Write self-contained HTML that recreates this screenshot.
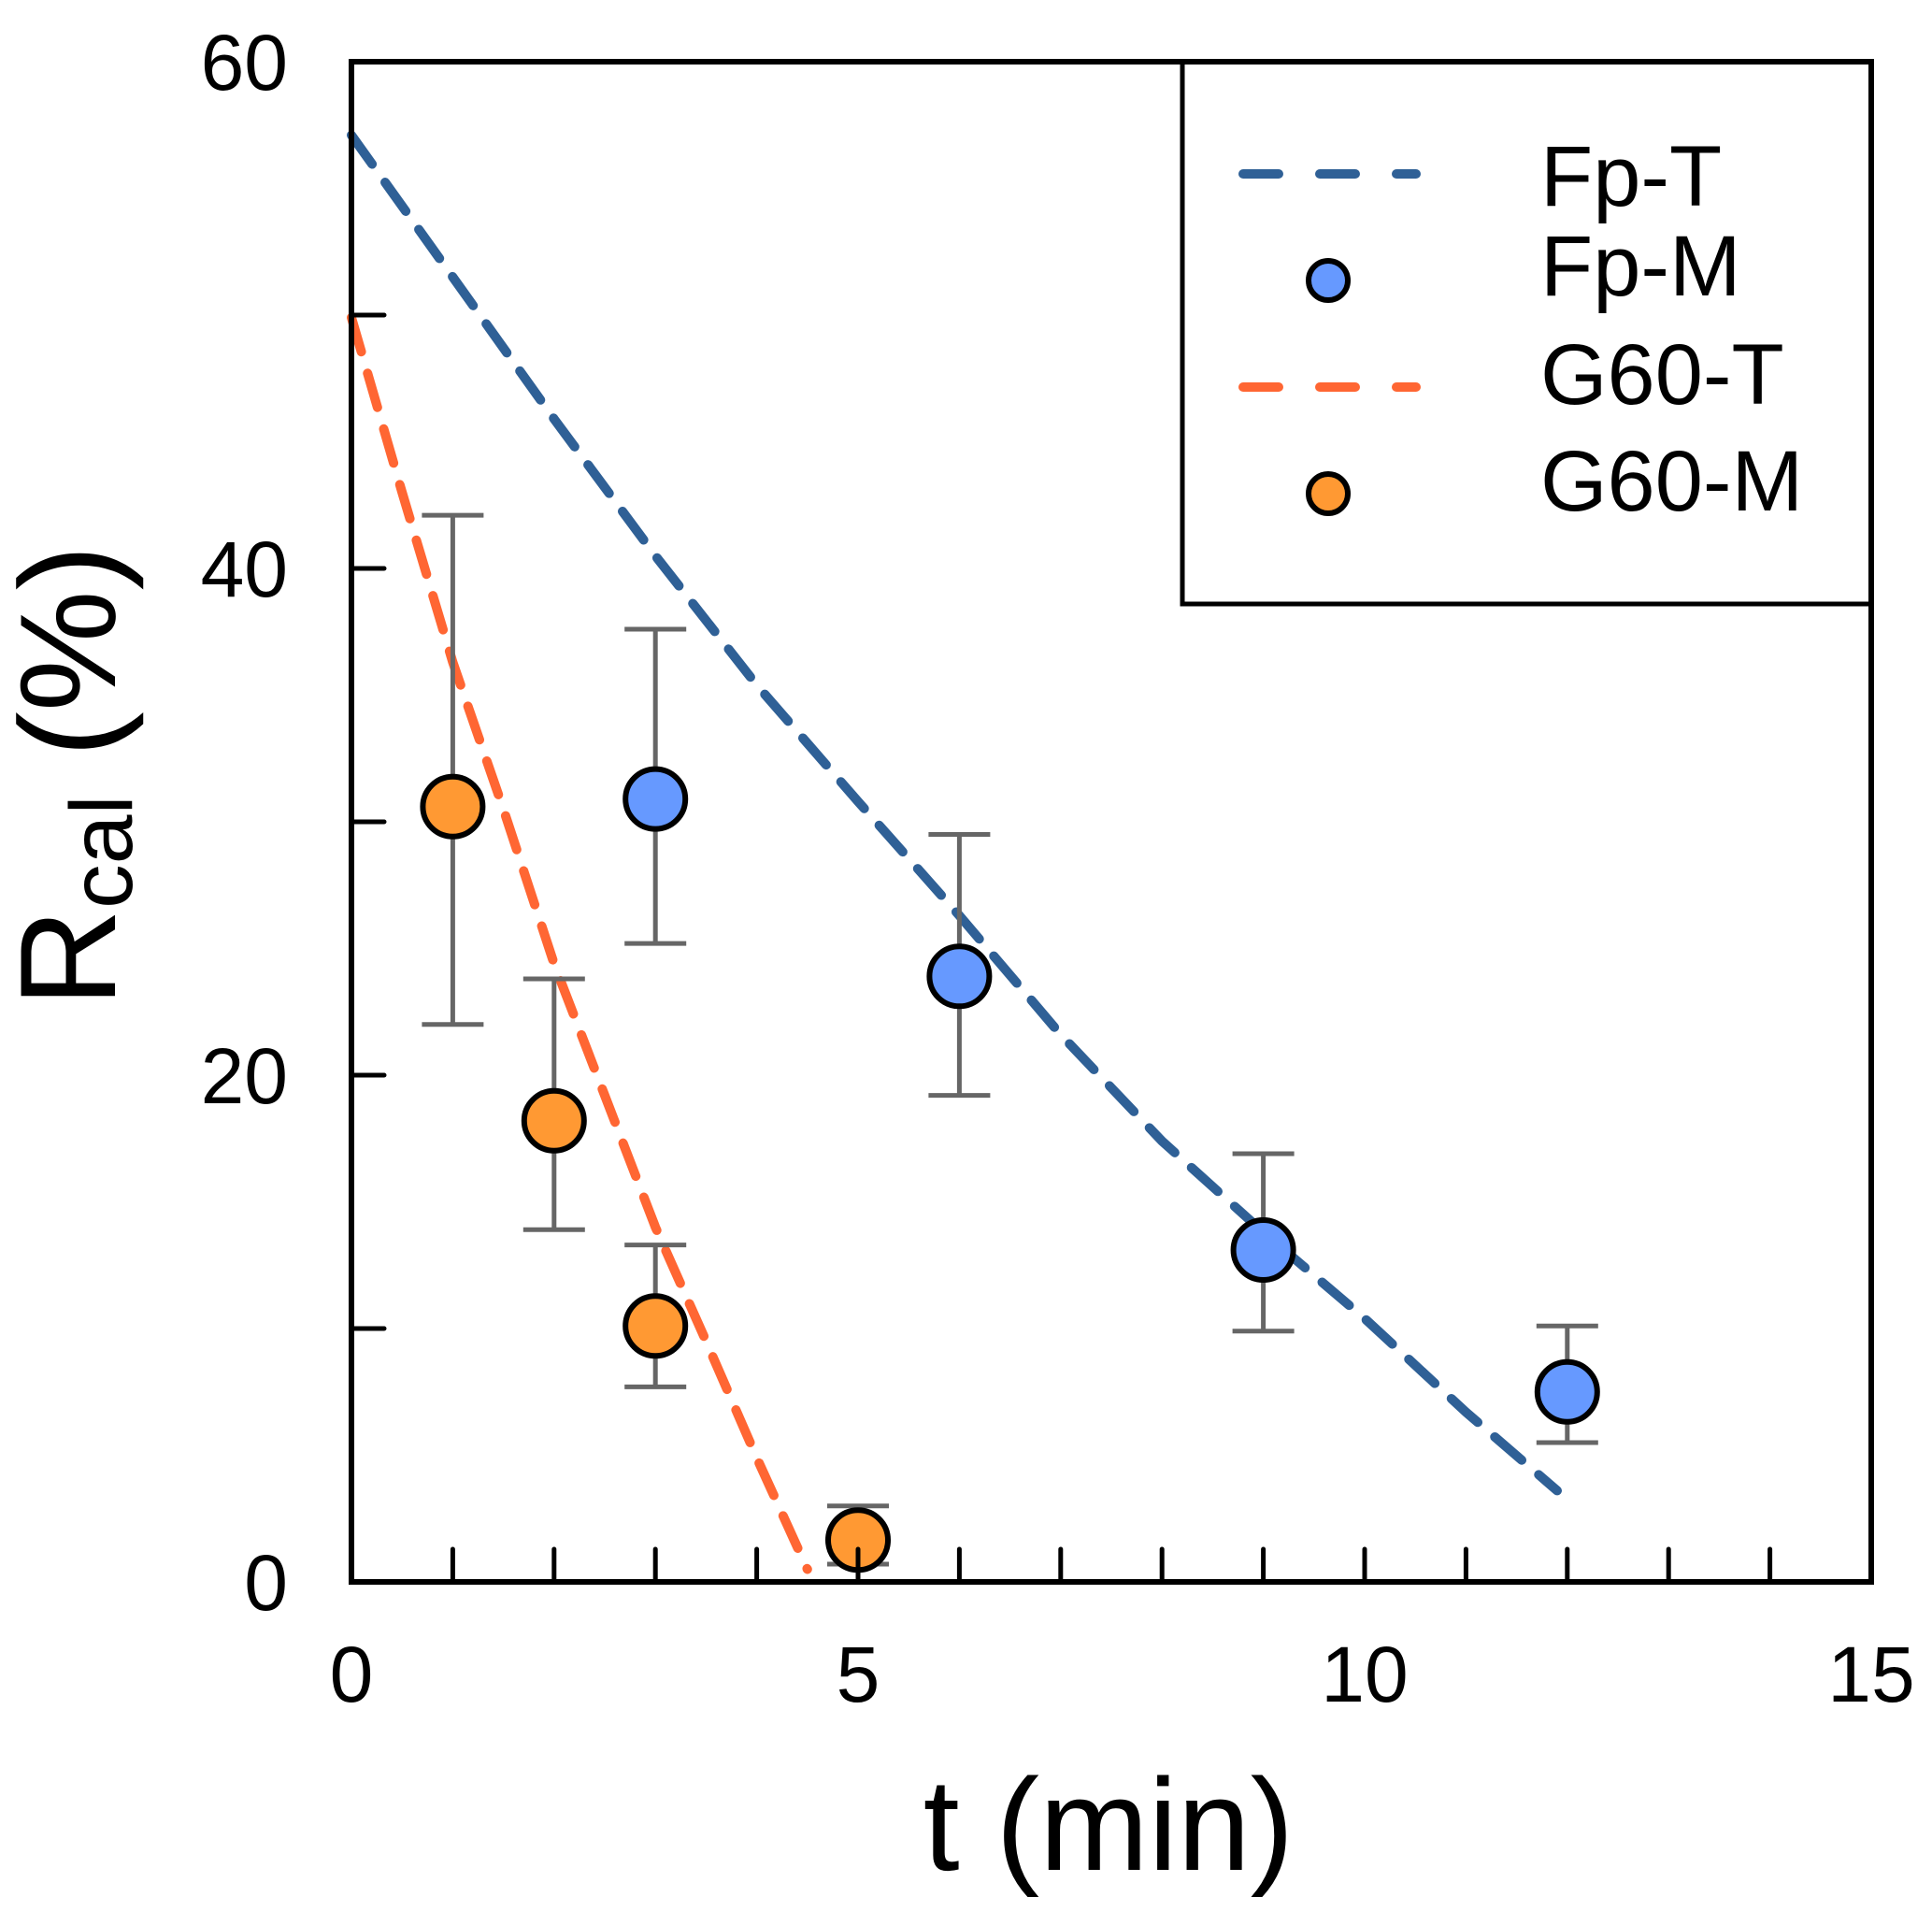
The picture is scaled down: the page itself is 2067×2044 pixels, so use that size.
<!DOCTYPE html>
<html><head><meta charset="utf-8"><style>
html,body{margin:0;padding:0;background:#fff}
svg{display:block}
text{font-family:"Liberation Sans",Arial,sans-serif;fill:#000}
</style></head><body>
<svg id="chart" width="2067" height="2044" viewBox="0 0 2067 2044" xmlns="http://www.w3.org/2000/svg">
<g id="lines"></g>
<g id="errs"></g>
<g id="pts"></g>
<g id="axes"></g>
<g>
  <rect x="1265" y="66" width="737" height="580" fill="none" stroke="#000" stroke-width="5"/>
  <line x1="1330" y1="186" x2="1515" y2="186" stroke="#2f6096" stroke-width="10" stroke-linecap="round" stroke-dasharray="38 44"/>
  <circle cx="1421" cy="300" r="21" fill="#6699ff" stroke="#000" stroke-width="6"/>
  <line x1="1330" y1="414" x2="1515" y2="414" stroke="#ff6633" stroke-width="10" stroke-linecap="round" stroke-dasharray="38 44"/>
  <circle cx="1421" cy="528" r="21" fill="#ff9933" stroke="#000" stroke-width="6"/>
  <text x="1648" y="220" font-size="92">Fp-T</text>
  <text x="1648" y="316" font-size="92">Fp-M</text>
  <text x="1648" y="432" font-size="92">G60-T</text>
  <text x="1648" y="546" font-size="92">G60-M</text>
</g>
<text x="1186" y="2000" font-size="140" text-anchor="middle">t (min)</text>
<text transform="translate(123,830) rotate(-90)" font-size="146" text-anchor="middle">R<tspan font-size="95" dy="18">cal</tspan><tspan dy="-18"> (%)</tspan></text>
</svg>
<script>
const fpTx=[0,1,2,3,4,5,6,7,8,9,10,11,11.9];
const fpTy=[57.1,51.5,45.9,40.5,35.4,30.8,26.3,21.6,17.4,13.8,10.4,6.7,3.6];
const g60Tx=[0,0.5,1,1.5,2,2.5,3,3.5,4,4.5];
const g60Ty=[49.9,43,36.3,30.5,24.4,19.2,14.0,9.5,4.9,0.5];
const fpMx=[3,6,9,12];
const fpMy=[30.9,23.9,13.1,7.5];
const fpMhi=[37.6,29.5,16.9,10.1];
const fpMlo=[25.2,19.2,9.9,5.5];
const g60Mx=[1,2,3,5];
const g60My=[30.6,18.2,10.1,1.65];
const g60Mhi=[42.1,23.8,13.3,3.0];
const g60Mlo=[22.0,13.9,7.7,0.7];
const xTickLabels=["0","5","10","15"];
const yTickLabels=["0","20","40","60"];
const X0=376,X1=2002,Y0=1692,Y1=66;
const sx=t=>X0+(X1-X0)*t/15;
const sy=v=>Y0-(Y0-Y1)*v/60;
const NS="http://www.w3.org/2000/svg";
function mk(tag,parent,attrs){const e=document.createElementNS(NS,tag);for(const k in attrs)e.setAttribute(k,attrs[k]);parent.appendChild(e);return e;}
const lines=document.getElementById('lines'),errs=document.getElementById('errs'),pts=document.getElementById('pts'),axes=document.getElementById('axes');
function curve(xs,ys,color,name){
  const d=xs.map((x,i)=>(i?'L':'M')+sx(x).toFixed(1)+' '+sy(ys[i]).toFixed(1)).join(' ');
  const p=mk('path',lines,{d:d,fill:'none',stroke:color,'stroke-width':10,'stroke-linecap':'round','stroke-linejoin':'round','stroke-dasharray':'38 24'});
  
  
}
curve(fpTx,fpTy,'#2f6096','fp-t-line');
curve(g60Tx,g60Ty,'#ff6633','g60-t-line');
function series(xs,ys,hi,lo,color,name){
  xs.forEach((x,i)=>{
    const cx=sx(x);
    const g=mk('g',errs,{stroke:'#666','stroke-width':5});
    
    
    mk('line',g,{x1:cx,x2:cx,y1:sy(hi[i]),y2:sy(lo[i])});
    mk('line',g,{x1:cx-33,x2:cx+33,y1:sy(hi[i]),y2:sy(hi[i])});
    mk('line',g,{x1:cx-33,x2:cx+33,y1:sy(lo[i]),y2:sy(lo[i])});
    const c=mk('circle',pts,{cx:cx,cy:sy(ys[i]),r:32,fill:color,stroke:'#000','stroke-width':6});
    
    
  });
}
series(g60Mx,g60My,g60Mhi,g60Mlo,'#ff9933','g60-m');
series(fpMx,fpMy,fpMhi,fpMlo,'#6699ff','fp-m');
const frame=mk('path',axes,{d:`M${X0} ${Y1} H${X1} V${Y0} H${X0} Z`,fill:'none',stroke:'#000','stroke-width':6});


for(let t=1;t<15;t++){
  const l=mk('line',axes,{x1:sx(t),x2:sx(t),y1:Y0,y2:Y0-35,stroke:'#000','stroke-width':5,'stroke-linecap':'round'});
  
  
}
for(let v=10;v<60;v+=10){
  const l=mk('line',axes,{x1:X0,x2:X0+35,y1:sy(v),y2:sy(v),stroke:'#000','stroke-width':5,'stroke-linecap':'round'});
  
  
}
xTickLabels.forEach(s=>{
  const t=mk('text',axes,{x:sx(+s),y:1820,'font-size':84,'text-anchor':'middle'});
  t.textContent=s;
  
  
});
yTickLabels.forEach(s=>{
  const t=mk('text',axes,{x:308,y:sy(+s)+30,'font-size':84,'text-anchor':'end'});
  t.textContent=s;
  
  
});
</script>
</body></html>
